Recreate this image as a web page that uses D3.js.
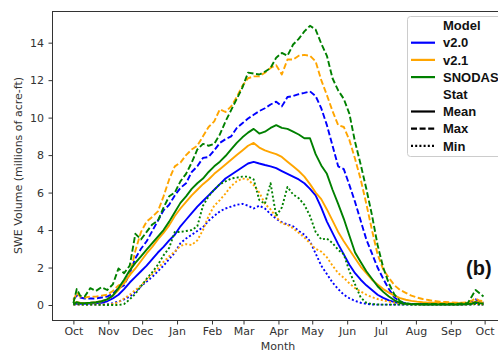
<!DOCTYPE html>
<html>
<head>
<meta charset="utf-8">
<script src="https://cdn.jsdelivr.net/npm/d3@7"></script>
<style>
  html, body { margin: 0; padding: 0; background: #fff; }
  svg { display: block; }
</style>
</head>
<body>
<svg id="chart" width="498" height="351"></svg>
<script>
// Day offsets from 1 October of the water year
const days = [0, 3, 6, 10, 15, 20, 25, 30, 35, 40,
  45, 50, 55, 60, 65, 70, 75, 80, 85, 90,
  95, 100, 105, 110, 115, 120, 125, 130, 135, 140,
  145, 150, 155, 160, 165, 170, 175, 180, 185, 190,
  195, 200, 205, 210, 215, 220, 225, 230, 235, 240,
  245, 250, 255, 260, 265, 270, 275, 280, 285, 290,
  295, 300, 305, 310, 315, 320, 325, 330, 335, 340,
  345, 350, 354, 357, 360, 364];

// SWE volume, millions of acre-ft
const v20Mean = [0.05, 0.08, 0.06, 0.06, 0.08, 0.1, 0.12, 0.2, 0.35, 0.55,
  0.85, 1.2, 1.5, 1.8, 2.1, 2.45, 2.8, 3.1, 3.45, 3.75,
  4.2, 4.55, 4.9, 5.25, 5.55, 5.85, 6.15, 6.45, 6.75, 6.95,
  7.15, 7.35, 7.55, 7.64, 7.55, 7.47, 7.4, 7.3, 7.15, 7.0,
  6.85, 6.7, 6.5, 6.2, 5.85, 5.2, 4.45, 3.85, 3.25, 2.7,
  2.15, 1.7, 1.35, 1.05, 0.8, 0.55, 0.38, 0.25, 0.15, 0.1,
  0.07, 0.05, 0.05, 0.04, 0.04, 0.04, 0.04, 0.04, 0.04, 0.04,
  0.04, 0.05, 0.08, 0.12, 0.1, 0.08];
const v20Max = [0.3, 0.5, 0.4, 0.35, 0.35, 0.35, 0.4, 0.45, 0.6, 0.9,
  1.05, 1.7, 2.5, 3.0, 3.4, 3.95, 4.5, 5.05, 5.35, 5.85,
  6.25, 6.5, 7.1, 7.4, 7.85, 7.9, 8.25, 8.65, 8.85, 9.0,
  9.45, 9.7, 9.95, 10.15, 10.35, 10.5, 10.7, 10.85, 10.6, 11.1,
  11.15, 11.25, 11.32, 11.4, 11.15, 10.5, 9.6, 8.5, 7.4, 7.25,
  6.4, 5.5, 4.5, 3.5, 2.75, 2.0, 1.4, 0.85, 0.4, 0.18,
  0.08, 0.05, 0.05, 0.05, 0.05, 0.05, 0.05, 0.05, 0.05, 0.05,
  0.06, 0.08, 0.2, 0.3, 0.2, 0.15];
const v20Min = [0.03, 0.03, 0.03, 0.03, 0.03, 0.03, 0.03, 0.04, 0.1, 0.18,
  0.3, 0.45, 0.7, 1.0, 1.25, 1.5, 1.8, 2.1, 2.45, 2.8,
  3.3, 3.55, 3.75, 3.95, 4.15, 4.5, 4.75, 5.0, 5.15, 5.25,
  5.35, 5.4, 5.3, 5.15, 5.3, 5.15, 4.85, 4.6, 4.42, 4.3,
  4.2, 3.95, 3.75, 3.4, 2.75, 2.1, 1.65, 1.2, 0.85, 0.55,
  0.36, 0.22, 0.12, 0.06, 0.03, 0.02, 0.02, 0.02, 0.02, 0.02,
  0.02, 0.02, 0.02, 0.02, 0.02, 0.02, 0.02, 0.02, 0.02, 0.02,
  0.02, 0.02, 0.03, 0.05, 0.03, 0.02];

const v21Mean = [0.1, 0.15, 0.12, 0.1, 0.12, 0.15, 0.2, 0.3, 0.5, 0.8,
  1.2, 1.6, 1.95, 2.35, 2.75, 3.1, 3.5, 3.85, 4.25, 4.75,
  5.15, 5.5, 5.85, 6.15, 6.45, 6.7, 7.0, 7.25, 7.5, 7.75,
  8.0, 8.25, 8.5, 8.65, 8.4, 8.25, 8.15, 8.05, 7.9, 7.65,
  7.4, 7.15, 6.85, 6.45, 6.0, 5.65, 5.1, 4.5, 3.9, 3.4,
  2.95, 2.5, 2.05, 1.7, 1.35, 1.1, 0.85, 0.66, 0.5, 0.37,
  0.28, 0.22, 0.18, 0.15, 0.13, 0.12, 0.11, 0.1, 0.1, 0.1,
  0.1, 0.1, 0.12, 0.18, 0.15, 0.12];
const v21Max = [0.25, 0.65, 0.45, 0.4, 0.45, 0.45, 0.5, 0.55, 0.75, 1.05,
  1.15, 1.6, 2.9, 3.9, 4.45, 4.7, 5.0, 5.8, 6.7, 7.4,
  7.6, 8.0, 8.3, 8.5, 9.0, 9.5, 9.8, 10.45, 10.3, 10.6,
  11.1, 11.7, 12.1, 12.2, 12.2, 12.4, 12.65, 12.8, 12.3, 13.1,
  13.1, 13.3, 13.35, 13.3, 13.0, 12.0, 11.2, 10.35, 9.6, 9.5,
  8.8, 7.8, 6.7, 5.4, 4.0, 2.7, 1.9, 1.45, 1.05, 0.8,
  0.65, 0.5, 0.4, 0.32, 0.27, 0.22, 0.18, 0.16, 0.14, 0.12,
  0.12, 0.15, 0.25, 0.35, 0.25, 0.2];
const v21Min = [0.03, 0.03, 0.03, 0.03, 0.03, 0.03, 0.03, 0.03, 0.05, 0.15,
  0.35, 0.55, 0.8, 1.05, 1.35, 1.65, 1.95, 2.3, 2.6, 2.85,
  3.15, 3.25, 3.2, 3.45, 4.0, 4.75, 5.3, 5.6, 5.95, 6.35,
  6.6, 6.75, 6.7, 6.4, 6.0, 5.4, 5.1, 4.7, 4.35, 4.27,
  4.1, 3.85, 3.6, 3.3, 3.0, 2.85, 2.55, 2.1, 1.7, 1.45,
  1.15, 0.9, 0.72, 0.55, 0.42, 0.32, 0.25, 0.18, 0.13, 0.09,
  0.06, 0.04, 0.03, 0.03, 0.03, 0.03, 0.03, 0.03, 0.03, 0.03,
  0.03, 0.03, 0.04, 0.06, 0.04, 0.03];

const snodasMean = [0.05, 0.15, 0.1, 0.1, 0.12, 0.15, 0.2, 0.3, 0.5, 0.9,
  1.35, 1.85, 2.25, 2.6, 2.95, 3.3, 3.65, 4.0, 4.45, 4.95,
  5.45, 5.8, 6.2, 6.5, 6.75, 7.1, 7.4, 7.65, 7.95, 8.3,
  8.65, 8.95, 9.2, 9.4, 9.15, 9.25, 9.45, 9.6, 9.45, 9.4,
  9.25, 9.1, 8.9, 8.9, 8.05, 7.45, 7.0, 6.15, 5.4, 4.6,
  3.7, 2.8, 2.3, 1.8, 1.4, 1.0, 0.7, 0.45, 0.25, 0.12,
  0.06, 0.04, 0.04, 0.03, 0.03, 0.03, 0.03, 0.03, 0.03, 0.03,
  0.04, 0.05, 0.08, 0.15, 0.1, 0.08];
const snodasMax = [0.1, 0.85, 0.5, 0.45, 0.9, 0.75, 0.95, 0.8, 1.1, 1.95,
  1.7, 2.1, 3.8, 3.5, 3.9, 4.3, 4.5, 5.2, 5.8, 6.0,
  6.6, 7.0, 7.6, 8.3, 8.6, 8.5, 8.6, 9.1, 9.8, 10.4,
  11.0, 11.6, 12.4, 12.35, 12.3, 12.45, 12.65, 13.2, 13.45, 13.3,
  13.9, 14.2, 14.6, 14.9, 14.7, 13.95, 13.3, 12.1, 11.45, 11.0,
  10.2, 8.7, 7.5, 6.2, 4.8, 3.2, 2.0, 1.15, 0.55, 0.2,
  0.1, 0.06, 0.05, 0.05, 0.05, 0.05, 0.05, 0.05, 0.05, 0.06,
  0.08, 0.1, 0.5, 0.8, 0.65, 0.45];
const snodasMin = [0.03, 0.05, 0.03, 0.02, 0.02, 0.02, 0.01, 0.0, 0.0, 0.0,
  0.05, 0.3, 0.6, 1.0, 1.4, 1.75, 2.15, 2.65, 3.05, 3.9,
  3.9, 3.95, 4.0, 4.2, 5.3, 5.8, 6.15, 6.45, 6.6, 6.75,
  6.8, 6.85, 6.85, 6.7, 5.6, 5.4, 6.5, 4.75, 5.2, 6.3,
  5.9, 5.7, 5.35, 4.75, 3.9, 3.5, 3.55, 3.3, 2.95, 2.7,
  1.8, 1.1, 0.4, 0.12, 0.05, 0.03, 0.02, 0.02, 0.02, 0.02,
  0.02, 0.02, 0.02, 0.02, 0.02, 0.02, 0.02, 0.02, 0.02, 0.02,
  0.02, 0.02, 0.03, 0.05, 0.03, 0.02];

const models = ["v2.0", "v2.1", "SNODAS"];
const modelColors = ["#0000ff", "#ffa500", "#008000"];
const stats = ["Mean", "Max", "Min"];
const statDashes = [null, "6,2.6", "2,2.2"];
const monthLabels = ["Oct", "Nov", "Dec", "Jan", "Feb", "Mar", "Apr", "May", "Jun", "Jul", "Aug", "Sep", "Oct"];
const yTicks = [0, 2, 4, 6, 8, 10, 12, 14];

const seriesTable = [
  { model: 0, stat: 0, values: v20Mean },
  { model: 0, stat: 1, values: v20Max },
  { model: 0, stat: 2, values: v20Min },
  { model: 1, stat: 0, values: v21Mean },
  { model: 1, stat: 1, values: v21Max },
  { model: 1, stat: 2, values: v21Min },
  { model: 2, stat: 0, values: snodasMean },
  { model: 2, stat: 1, values: snodasMax },
  { model: 2, stat: 2, values: snodasMin }
];

const svg = d3.select("#chart");
const W = 498, H = 351;
const plot = { left: 52, right: 504, top: 11, bottom: 320 };

const start = new Date(Date.UTC(2001, 9, 1));
const dayToDate = d => d3.utcDay.offset(start, d);
const pad = 364 * 0.05;

const x = d3.scaleUtc()
  .domain([dayToDate(-pad), new Date(+dayToDate(364) + pad * 864e5)])
  .range([plot.left, plot.right]);
const y = d3.scaleLinear()
  .domain([-0.8, 15.69])
  .range([plot.bottom, plot.top]);

svg.append("rect").attr("width", W).attr("height", H).attr("fill", "#fff");

const clip = svg.append("defs").append("clipPath").attr("id", "plotclip");
clip.append("rect")
  .attr("x", plot.left).attr("y", plot.top)
  .attr("width", plot.right - plot.left).attr("height", plot.bottom - plot.top);

// Series lines
const line = d3.line()
  .x((v, i) => x(dayToDate(days[i])))
  .y(v => y(v));

const lines = svg.append("g").attr("clip-path", "url(#plotclip)");
seriesTable.forEach(s => {
  lines.append("path")
    .attr("d", line(s.values))
    .attr("fill", "none")
    .attr("stroke", modelColors[s.model])
    .attr("stroke-width", 1.9)
    .attr("stroke-linejoin", "round")
    .attr("stroke-dasharray", statDashes[s.stat]);
});

// Axes frame
svg.append("rect")
  .attr("x", plot.left + 0.5).attr("y", plot.top + 0.5)
  .attr("width", plot.right - plot.left).attr("height", plot.bottom - plot.top)
  .attr("fill", "none").attr("stroke", "#333").attr("stroke-width", 1);

const tickFont = "'DejaVu Sans', sans-serif";
const monthTicks = monthLabels.map((m, i) => d3.utcMonth.offset(start, i));

const xAxis = svg.append("g")
  .attr("transform", `translate(0,${plot.bottom + 0.5})`)
  .call(d3.axisBottom(x).tickValues(monthTicks)
    .tickFormat((d, i) => monthLabels[i]).tickSize(4).tickPadding(3).tickSizeOuter(0));
const yAxis = svg.append("g")
  .attr("transform", `translate(${plot.left + 0.5},0)`)
  .call(d3.axisLeft(y).tickValues(yTicks).tickSize(4).tickPadding(4.5).tickSizeOuter(0));

[xAxis, yAxis].forEach(g => {
  g.select(".domain").remove();
  g.selectAll(".tick line").attr("stroke", "#333");
  g.selectAll(".tick text").attr("fill", "#333")
    .style("font-family", tickFont).style("font-size", "11px");
});

svg.append("text")
  .attr("x", (plot.left + plot.right) / 2).attr("y", 349.5)
  .attr("text-anchor", "middle")
  .style("font-family", tickFont).style("font-size", "11px").attr("fill", "#333")
  .text("Month");

svg.append("text")
  .attr("transform", `translate(18,${(plot.top + plot.bottom) / 2}) rotate(-90)`)
  .attr("text-anchor", "middle").attr("dy", "0.35em")
  .style("font-family", tickFont).style("font-size", "11px").attr("fill", "#333")
  .text("SWE Volume (millions of acre-ft)");

// Panel tag
svg.append("text")
  .attr("x", 466).attr("y", 275)
  .style("font-family", "'Liberation Sans', Arial, sans-serif")
  .style("font-size", "20px").style("font-weight", "bold").attr("fill", "#111")
  .text("(b)");

// Legend: model colours then line styles
const legendRows = [
  { label: "Model" },
  ...models.map((m, i) => ({ label: m, color: modelColors[i], dash: null })),
  { label: "Stat" },
  ...stats.map((s, i) => ({ label: s, color: "#000", dash: statDashes[i] }))
];
const legend = svg.append("g");
legend.append("rect")
  .attr("x", 407.5).attr("y", 16.5).attr("width", 120).attr("height", 140)
  .attr("rx", 3).attr("fill", "#fff").attr("fill-opacity", 0.85)
  .attr("stroke", "#ccc").attr("stroke-width", 1);
legendRows.forEach((r, i) => {
  const cy = 25.5 + i * 17.2;
  if (r.color) {
    legend.append("line")
      .attr("x1", 411).attr("x2", 435).attr("y1", cy).attr("y2", cy)
      .attr("stroke", r.color).attr("stroke-width", 2.2)
      .attr("stroke-dasharray", r.dash);
  }
  legend.append("text")
    .attr("x", 443).attr("y", cy).attr("dy", "0.36em")
    .style("font-family", "'Liberation Sans', Arial, sans-serif")
    .style("font-size", "13px").style("font-weight", "bold").attr("fill", "#111")
    .text(r.label);
});
</script>
</body>
</html>
